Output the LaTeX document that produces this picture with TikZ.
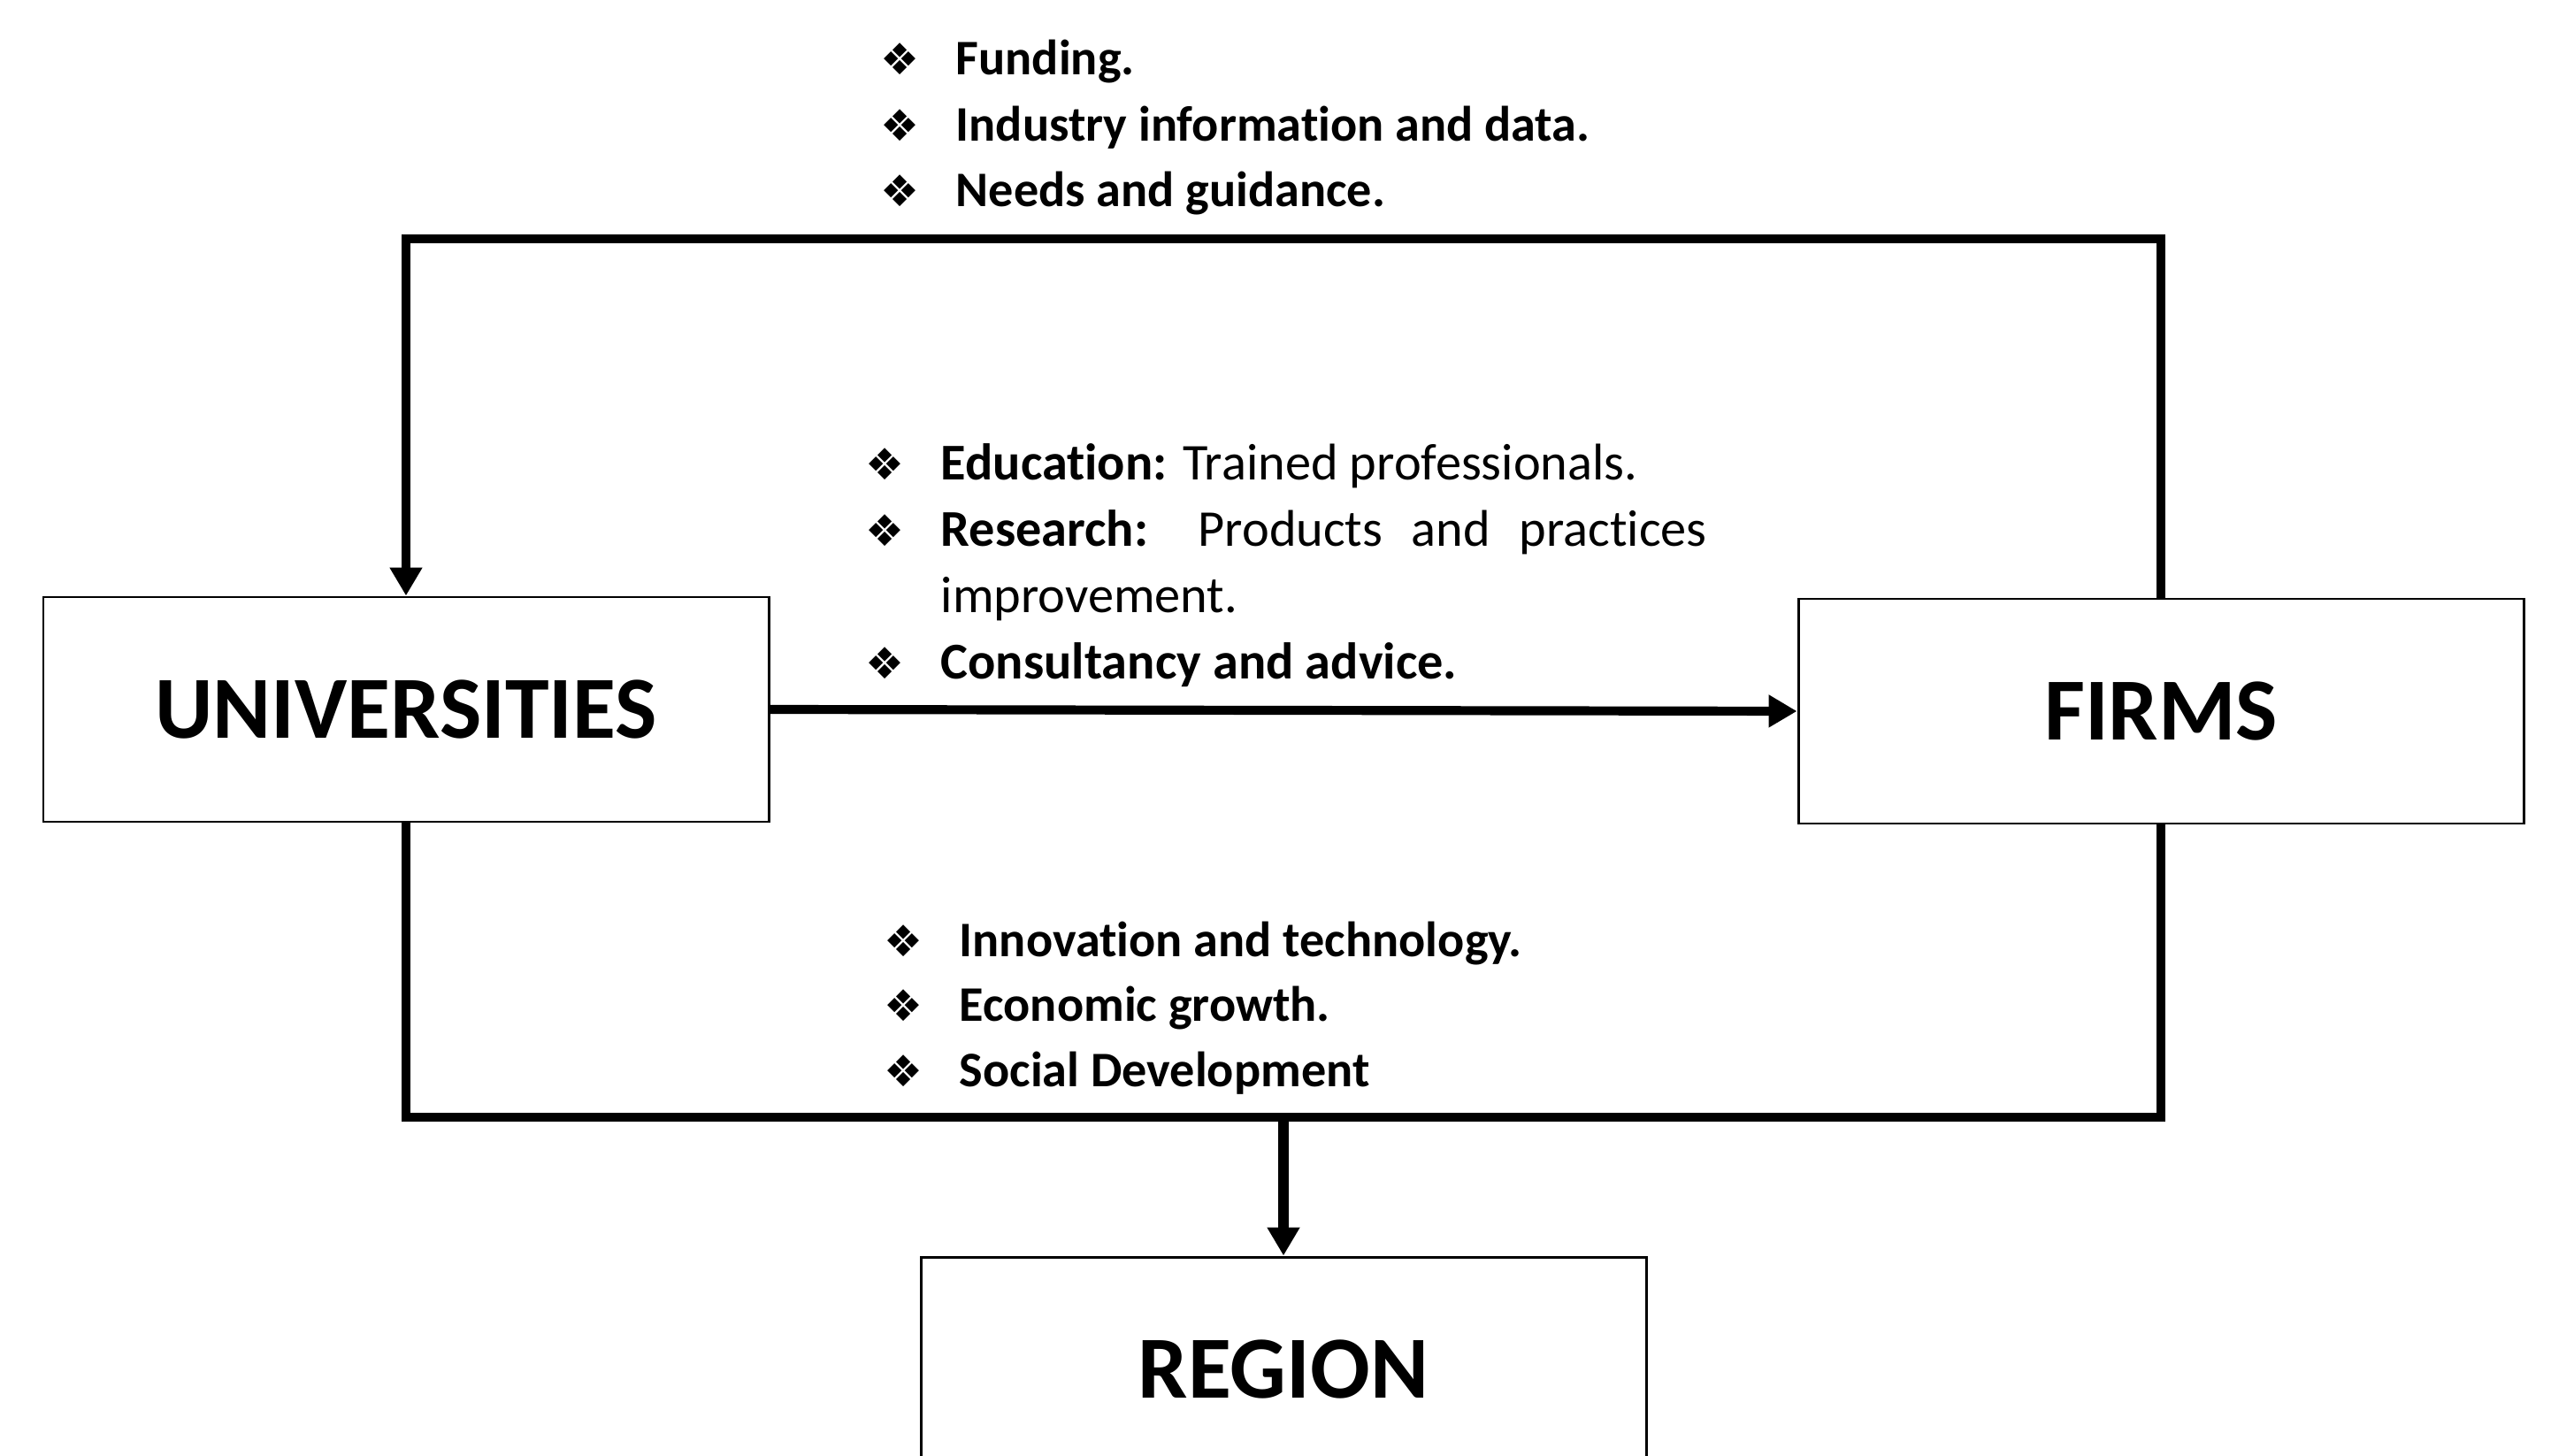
\documentclass[tikz,border=0pt]{standalone}
\usepackage{fontspec}
\setmainfont{Carlito}[Ligatures=NoCommon]
\newfontfamily\bulfont{DejaVu Sans}
\usetikzlibrary{positioning,arrows.meta}

\newcommand{\dia}{\makebox[0pt]{\resizebox{0.44cm}{!}{\bulfont ❖}}\hspace{0.63cm}}
\newcommand{\itm}[1]{\hangindent=0.63cm\hangafter=1\noindent\dia#1\par}

\tikzset{
  box/.style={draw, line width=0.85pt, minimum width=8.2cm, minimum height=2.54cm,
    font=\fontsize{28.5}{34}\selectfont\bfseries},
  flow/.style={line width=2.9pt},
  arr/.style={-{Triangle[width=0.35cm,length=0.32cm]}},
  item/.style={anchor=base west, inner sep=0pt, font=\fontsize{16}{21}\selectfont\bfseries},
}

\begin{document}
\begin{tikzpicture}
  \useasboundingbox (0,0) rectangle (28.84,-16.46);
  \clip (0,0) rectangle (28.84,-16.46);

  % Boxes
  \node[box] (univ) at (4.59,-8.02) {UNIVERSITIES};
  \node[box] (firms) at (24.43,-8.04) {FIRMS};
  \node[box] (region) at (14.51,-15.48) {REGION};

  % Rails of the two loops
  \coordinate (toprail) at (14.5,-2.70);
  \coordinate (botrail) at (14.51,-12.63);

  % Connectors
  \draw[flow,arr] (firms.north) |- (toprail) -| (univ.north);
  \draw[flow,arr] (univ.east) -- (firms.west);
  \draw[flow] (univ.south) |- (botrail) -| (firms.south);
  \draw[line width=3.4pt,arr] (botrail) -- (region.north);

  % Firms to universities
  \foreach \t [count=\i] in {Funding., Industry information and data., Needs and guidance.}
    \node[item] (top\i) at (10.17,{-0.85-0.745*(\i-1)}) {\dia\t};

  % Universities to firms
  \node[item, text width=9.29cm, align=justify, font=\fontsize{16.6}{21.3}\selectfont] (mid) at (10.00,-5.43)
    {\itm{\textbf{Education:} Trained professionals.}%
     \itm{\tolerance=10000 \textbf{Research:} Products and practices \mbox{improvement.}}%
     \itm{\textbf{Consultancy and advice.}}};

  % Both to the region
  \foreach \t [count=\i] in {Innovation and technology., Economic growth., Social Development}
    \node[item] (bot\i) at (10.21,{-10.81-0.735*(\i-1)}) {\dia\t};
\end{tikzpicture}
\end{document}
